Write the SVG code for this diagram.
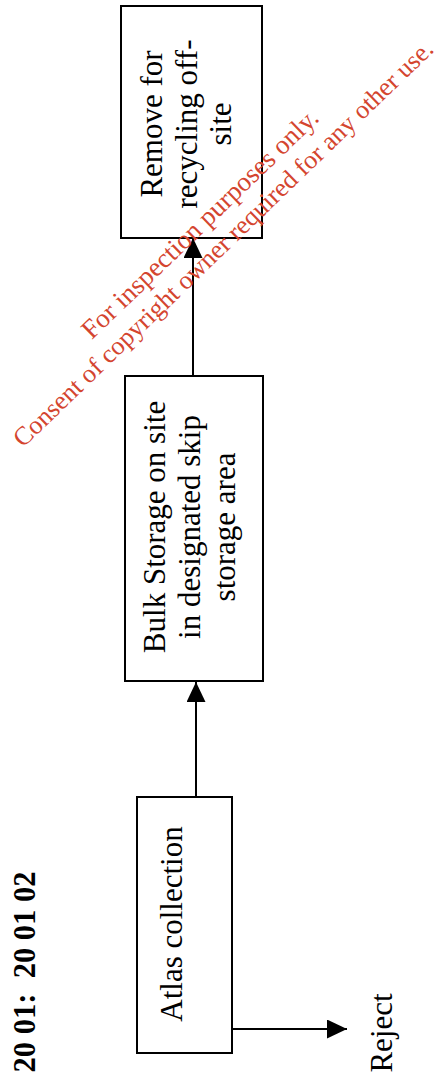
<svg xmlns="http://www.w3.org/2000/svg" width="435" height="1081" viewBox="0 0 435 1081">
<style>
.box{fill:#fff;stroke:#000;stroke-width:2}
.lbl{font-family:"Liberation Serif","Times New Roman",serif;font-size:31px;fill:#000;text-anchor:middle}
.edge{stroke:#000;stroke-width:2;fill:none}
.wm{font-family:"Liberation Serif","Times New Roman",serif;fill:#d4452f;text-anchor:middle}
.title{font-family:"Liberation Serif","Times New Roman",serif;font-size:30.5px;font-weight:bold;fill:#000;text-anchor:middle}
</style>
<defs>
<marker id="ah" viewBox="0 0 20 19" refX="20" refY="9.5" markerWidth="20" markerHeight="19" markerUnits="userSpaceOnUse" orient="auto">
<path d="M0,0 L20,9.5 L0,19 z" fill="#000"/>
</marker>
</defs>
<rect width="435" height="1081" fill="#fff"/>
<g id="title">
<text class="title" transform="translate(35,972) rotate(-90)" x="0" y="0" xml:space="preserve">20 01:  20 01 02</text>
</g>
<g id="node-remove">
<rect class="box" x="121" y="6" width="141" height="232"/>
<g transform="translate(0,124) rotate(-90)">
<text class="lbl" x="0" y="162">Remove for</text>
<text class="lbl" x="0" y="197">recycling off-</text>
<text class="lbl" x="0" y="231">site</text>
</g>
</g>
<g id="node-bulk">
<rect class="box" x="125" y="376" width="138" height="305"/>
<g transform="translate(0,527) rotate(-90)">
<text class="lbl" x="0" y="165">Bulk Storage on site</text>
<text class="lbl" x="0" y="200">in designated skip</text>
<text class="lbl" x="0" y="235">storage area</text>
</g>
</g>
<g id="node-atlas">
<rect class="box" x="137" y="797" width="95" height="256"/>
<text class="lbl" transform="translate(0,924) rotate(-90)" x="0" y="182">Atlas collection</text>
</g>
<g id="node-reject">
<text class="lbl" transform="translate(0,1033) rotate(-90)" x="0" y="392">Reject</text>
</g>
<g id="connectors">
<line class="edge" x1="193" y1="376" x2="193" y2="238" marker-end="url(#ah)"/>
<line class="edge" x1="196" y1="797" x2="196" y2="682" marker-end="url(#ah)"/>
<line class="edge" x1="232" y1="1029" x2="347" y2="1029" marker-end="url(#ah)"/>
</g>
<g id="watermark" transform="translate(206,230) rotate(-44)">
<text class="wm" x="0" y="0" font-size="27">For inspection purposes only.</text>
<text class="wm" x="3" y="30" font-size="26">Consent of copyright owner required for any other use.</text>
</g>
</svg>
